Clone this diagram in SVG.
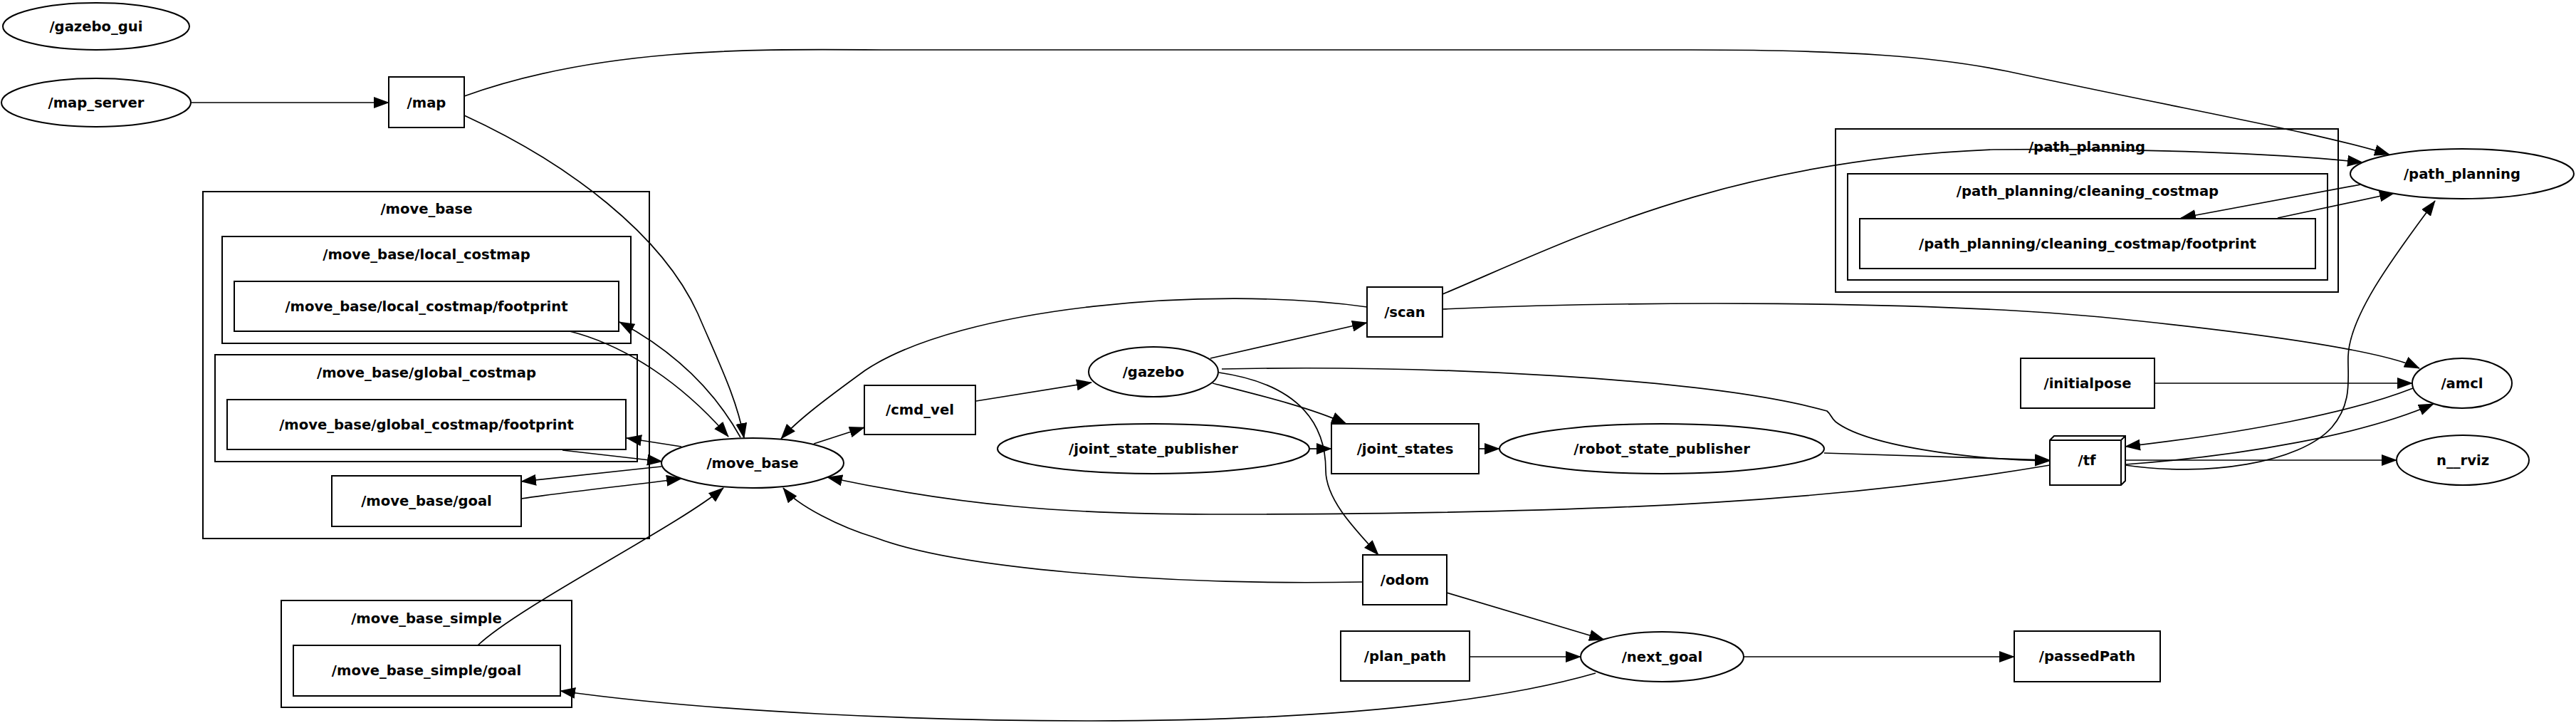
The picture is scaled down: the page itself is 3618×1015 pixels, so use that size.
<svg xmlns="http://www.w3.org/2000/svg" width="3618" height="1015" viewBox="0 0 3618 1015">
<defs>
<marker id="ah" viewBox="0 0 22 16" markerWidth="22" markerHeight="16" markerUnits="userSpaceOnUse" refX="21" refY="8" orient="auto">
<path d="M0,0 L22,8 L0,16 z" fill="#000"/>
</marker>
</defs>
<style>
.n{fill:#fff;stroke:#000;stroke-width:2}
.c{fill:none;stroke:#000;stroke-width:2}
.e{fill:none;stroke:#000;stroke-width:1.7;marker-end:url(#ah)}
text{font-family:"DejaVu Sans","Liberation Sans",sans-serif;font-weight:bold;font-size:19.6px;text-anchor:middle;fill:#000}
</style>
<rect width="3618" height="1015" fill="#fff"/>

<g id="clusters">
<g id="cl_move_base"><rect class="c" x="285" y="269" width="627" height="487"/><text x="599" y="300">/move_base</text></g>
<g id="cl_local_costmap"><rect class="c" x="312" y="332" width="574" height="150"/><text x="599" y="364">/move_base/local_costmap</text></g>
<g id="cl_global_costmap"><rect class="c" x="302" y="498" width="593" height="150"/><text x="599" y="530">/move_base/global_costmap</text></g>
<g id="cl_move_base_simple"><rect class="c" x="395" y="843" width="408" height="150"/><text x="599" y="875">/move_base_simple</text></g>
<g id="cl_path_planning"><rect class="c" x="2578" y="181" width="706" height="229"/><text x="2931" y="213">/path_planning</text></g>
<g id="cl_cleaning_costmap"><rect class="c" x="2595" y="244" width="674" height="149"/><text x="2932" y="275">/path_planning/cleaning_costmap</text></g>
</g>

<g id="edges">
<path class="e" d="M269,144 L546,144"/>
<path class="e" d="M652,135 C860,60 1100,70 1266,70 L2375,70 C2600,70 2720,80 2819,100 C3100,160 3250,185 3356,217"/>
<path class="e" d="M652,162 C800,230 930,330 980,440 C1010,510 1035,560 1045,615"/>
<path class="e" d="M1040,614 C1010,560 960,500 870,452"/>
<path class="e" d="M800,465 C880,485 960,540 1023,613"/>
<path class="e" d="M957,627 L880,615"/>
<path class="e" d="M790,632 L930,648"/>
<path class="e" d="M929,655 C860,662 790,670 732,676"/>
<path class="e" d="M732,700 C800,690 880,682 957,672"/>
<path class="e" d="M671,906 C730,850 950,740 1016,685"/>
<path class="e" d="M1143,623 L1214,600"/>
<path class="e" d="M1371,563 L1533,537"/>
<path class="e" d="M1700,503 L1920,453"/>
<path class="e" d="M1703,538 C1770,555 1840,572 1891,595"/>
<path class="e" d="M1712,523 C1830,540 1862,600 1862,660 C1862,700 1900,740 1936,779"/>
<path class="e" d="M1716,518 C2000,512 2400,530 2566,577 C2572,582 2572,587 2578,592 C2620,625 2760,645 2879,647"/>
<path class="e" d="M1920,431 C1700,400 1350,430 1215,520 C1160,560 1120,590 1097,616"/>
<path class="e" d="M2026,413 C2200,340 2420,225 2800,210 C3000,208 3200,215 3318,228"/>
<path class="e" d="M2026,434 C2300,422 2700,422 2950,445 C3150,465 3340,490 3398,517"/>
<path class="e" d="M3026,538 L3388,538"/>
<path class="e" d="M3389,545 C3300,580 3150,608 2985,627"/>
<path class="e" d="M2985,652 C3150,640 3320,610 3418,567"/>
<path class="e" d="M2985,646 L3366,646"/>
<path class="e" d="M2985,653 C3100,670 3230,650 3275,600 C3305,565 3297,530 3298,500 C3300,440 3370,350 3420,282"/>
<path class="e" d="M2562,636 L2879,646"/>
<path class="e" d="M2879,653 C2600,700 2300,722 1700,722 C1500,722 1350,710 1162,670"/>
<path class="e" d="M1914,817 C1650,822 1350,800 1230,755 C1180,740 1120,710 1100,685"/>
<path class="e" d="M2032,832 L2253,898"/>
<path class="e" d="M2064,922 L2220,922"/>
<path class="e" d="M2449,922 L2829,922"/>
<path class="e" d="M2241,945 C2050,1000 1750,1012 1533,1012 C1300,1012 1000,1000 787,970"/>
<path class="e" d="M1839,630 L1870,630"/>
<path class="e" d="M2077,630 L2106,630"/>
<path class="e" d="M3316,259 L3063,306"/>
<path class="e" d="M3199,306 L3363,271"/>
</g>

<g id="n_gazebo_gui"><ellipse class="n" cx="135" cy="37" rx="131" ry="33"/><text x="135" y="44">/gazebo_gui</text></g>
<g id="n_map_server"><ellipse class="n" cx="135" cy="144" rx="133" ry="34"/><text x="135" y="151">/map_server</text></g>
<g id="n_map"><rect class="n" x="546" y="108" width="106" height="71"/><text x="599" y="151">/map</text></g>
<g id="n_local_footprint"><rect class="n" x="329" y="395" width="540" height="70"/><text x="599" y="437">/move_base/local_costmap/footprint</text></g>
<g id="n_global_footprint"><rect class="n" x="319" y="561" width="560" height="70"/><text x="599" y="603">/move_base/global_costmap/footprint</text></g>
<g id="n_move_base_goal"><rect class="n" x="466" y="668" width="266" height="71"/><text x="599" y="710">/move_base/goal</text></g>
<g id="n_move_base_simple_goal"><rect class="n" x="412" y="906" width="375" height="71"/><text x="599" y="948">/move_base_simple/goal</text></g>
<g id="n_move_base"><ellipse class="n" cx="1057" cy="650" rx="128" ry="35"/><text x="1057" y="657">/move_base</text></g>
<g id="n_cmd_vel"><rect class="n" x="1214" y="541" width="156" height="69"/><text x="1292" y="582">/cmd_vel</text></g>
<g id="n_gazebo"><ellipse class="n" cx="1620" cy="522" rx="91" ry="35"/><text x="1620" y="529">/gazebo</text></g>
<g id="n_scan"><rect class="n" x="1920" y="403" width="106" height="70"/><text x="1973" y="445">/scan</text></g>
<g id="n_joint_state_publisher"><ellipse class="n" cx="1620" cy="630" rx="219" ry="35"/><text x="1620" y="637">/joint_state_publisher</text></g>
<g id="n_joint_states"><rect class="n" x="1870" y="595" width="207" height="70"/><text x="1973.5" y="637">/joint_states</text></g>
<g id="n_robot_state_publisher"><ellipse class="n" cx="2334" cy="630" rx="228" ry="35"/><text x="2334" y="637">/robot_state_publisher</text></g>
<g id="n_odom"><rect class="n" x="1914" y="779" width="118" height="70"/><text x="1973" y="821">/odom</text></g>
<g id="n_plan_path"><rect class="n" x="1883" y="886" width="181" height="70"/><text x="1973.5" y="928">/plan_path</text></g>
<g id="n_next_goal"><ellipse class="n" cx="2334.5" cy="922" rx="114.5" ry="35"/><text x="2334.5" y="929">/next_goal</text></g>
<g id="n_passedPath"><rect class="n" x="2829" y="886" width="205" height="71"/><text x="2931.5" y="928">/passedPath</text></g>
<g id="n_pp_footprint"><rect class="n" x="2612" y="307" width="640" height="70"/><text x="2932" y="349">/path_planning/cleaning_costmap/footprint</text></g>
<g id="n_path_planning"><ellipse class="n" cx="3458" cy="244" rx="157" ry="35"/><text x="3458" y="251">/path_planning</text></g>
<g id="n_initialpose"><rect class="n" x="2838" y="503" width="188" height="70"/><text x="2932" y="545">/initialpose</text></g>
<g id="n_amcl"><ellipse class="n" cx="3458" cy="538" rx="70" ry="35"/><text x="3458" y="545">/amcl</text></g>
<g id="n_tf">
<path class="n" d="M2879,618 L2885,612 L2985,612 L2985,675 L2979,681 L2879,681 Z"/>
<path class="c" d="M2879,618 L2979,618 L2985,612 M2979,618 L2979,681"/>
<text x="2931" y="653">/tf</text>
</g>
<g id="n_rviz"><ellipse class="n" cx="3459" cy="646" rx="93" ry="35"/><text x="3459" y="653">n__rviz</text></g>
</svg>
